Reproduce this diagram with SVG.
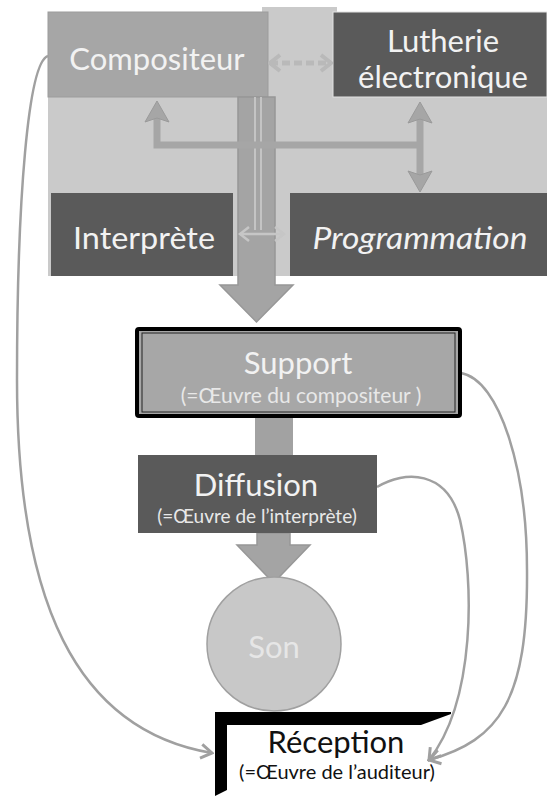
<svg xmlns="http://www.w3.org/2000/svg" width="547" height="796" viewBox="0 0 547 796">
<style>
.t{font-family:Lato,"Open Sans","Liberation Sans",sans-serif;font-size:31px;fill:#f2f2f2;text-anchor:middle}
.s{font-family:Lato,"Open Sans","Liberation Sans",sans-serif;font-size:19px;fill:#e8e8e8;text-anchor:middle}
.dark{fill:#5a5a5a}
.mid{fill:#a6a6a6}
.curve{fill:none;stroke:#a0a0a0;stroke-width:2.5}
.big{fill:#a4a4a4;stroke:#979797;stroke-width:1.5}
</style>
<defs>
<marker id="chev" markerUnits="userSpaceOnUse" viewBox="-14 -10 16 20" refX="0" refY="0" markerWidth="16" markerHeight="20" orient="auto-start-reverse">
<path d="M-11,-7 L0,0 L-11,7" fill="none" stroke="#a0a0a0" stroke-width="3"/>
</marker>
<marker id="chevL" markerUnits="userSpaceOnUse" viewBox="-14 -10 16 20" refX="0" refY="0" markerWidth="16" markerHeight="20" orient="auto-start-reverse">
<path d="M-10,-8 L0,0 L-10,8" fill="none" stroke="#b9b9b9" stroke-width="4"/>
</marker>
<marker id="chevS" markerUnits="userSpaceOnUse" viewBox="-12 -9 14 18" refX="0" refY="0" markerWidth="14" markerHeight="18" orient="auto-start-reverse">
<path d="M-9,-7 L0,0 L-9,7" fill="none" stroke="#c6c6c6" stroke-width="2.5"/>
</marker>
<marker id="head" markerUnits="userSpaceOnUse" viewBox="-16 -14 26 28" refX="0" refY="0" markerWidth="26" markerHeight="28" orient="auto-start-reverse">
<path d="M8,0 L-13,-12 L-9,0 L-13,12 Z" fill="#a6a6a6" stroke="#9a9a9a" stroke-width="1"/>
</marker>
</defs>

<!-- background panel -->
<g id="panel">
<rect x="48" y="12" width="499" height="264" fill="#cacaca"/>
<rect x="262" y="7" width="75" height="8" fill="#cacaca"/>
</g>

<g id="compositeur">
<rect x="48" y="12" width="220" height="85" class="mid" stroke="#9c9c9c" stroke-width="1"/>
<text x="157" y="70" class="t">Compositeur</text>
</g>

<g id="lutherie">
<rect x="333" y="12" width="214" height="85" class="dark" stroke="#e2e2e2" stroke-width="1"/>
<text x="443" y="52" class="t">Lutherie</text>
<text x="443" y="88" class="t">électronique</text>
</g>

<g id="interprete">
<rect x="51" y="193" width="182" height="83" class="dark"/>
<text x="144" y="249" class="t" textLength="142" lengthAdjust="spacingAndGlyphs">Interprète</text>
</g>

<g id="programmation">
<rect x="290" y="193" width="257" height="83" class="dark"/>
<text x="420" y="249" class="t" font-style="italic" textLength="215" lengthAdjust="spacingAndGlyphs">Programmation</text>
</g>

<g id="connectors">
<!-- big central arrow -->
<path d="M238,97 H275 V285 H293 L256.5,322 L220,285 H238 Z" class="big"/>
<path d="M255,97 V230 M261,97 V230" stroke="#c4c4c4" stroke-width="2" fill="none"/>
<path d="M240,234 H284" stroke="#c6c6c6" stroke-width="2.5" fill="none" marker-start="url(#chevS)" marker-end="url(#chevS)"/>
<!-- dashed compositeur-lutherie -->
<path d="M270,63 H331" stroke="#b9b9b9" stroke-width="5" stroke-dasharray="8 4" fill="none" marker-start="url(#chevL)" marker-end="url(#chevL)"/>
<!-- compositeur / lutherie / programmation connector -->
<path d="M420,145 H157 V109" stroke="#a6a6a6" stroke-width="7" fill="none" stroke-linejoin="miter" marker-end="url(#head)"/>
<path d="M420,110 V184" stroke="#a6a6a6" stroke-width="7" fill="none" marker-start="url(#head)" marker-end="url(#head)"/>
<!-- support to diffusion -->
<rect x="255" y="418" width="38" height="37" fill="#a2a2a2"/>
<!-- diffusion to son -->
<path d="M257,533 H290 V545 H310 L273.5,583 L237,545 H257 Z" class="big"/>
<!-- curves to reception -->
<path d="M48,56 C28,62 17,200 17,380 C17,600 75,730 212,753" class="curve" marker-end="url(#chev)"/>
<path d="M461,373 C500,380 527,470 527,570 C528,700 500,740 429,760" class="curve" marker-end="url(#chev)"/>
<path d="M377,487 C405,470 447,470 460,520 C474,580 476,700 429,760" class="curve" marker-end="url(#chev)"/>
</g>

<g id="support">
<rect x="137" y="329" width="323" height="87" fill="#a7a7a7" stroke="#000" stroke-width="4" rx="2"/>
<rect x="142" y="333" width="313" height="79" fill="none" stroke="#222" stroke-width="1"/>
<text x="298" y="374" class="t">Support</text>
<text x="301" y="403" class="s" style="font-size:21px">(=Œuvre du compositeur )</text>
</g>

<g id="diffusion">
<rect x="138" y="455" width="239" height="78" class="dark"/>
<text x="256" y="496" class="t">Diffusion</text>
<text x="257" y="523" class="s">(=Œuvre de l’interprète)</text>
</g>

<g id="son">
<circle cx="274" cy="644" r="67" fill="#c8c8c8" stroke="#a0a0a0" stroke-width="1.5"/>
<text x="274" y="658" class="t" style="fill:#e6e6e6">Son</text>
</g>

<g id="reception">
<polygon points="215,712 451,712 451,714 421,725 227,725 227,790 215,796" fill="#000"/>
<text x="336" y="753" class="t" style="fill:#111">Réception</text>
<text x="337" y="779" class="s" style="fill:#111;font-size:20px">(=Œuvre de l’auditeur)</text>
</g>
</svg>
